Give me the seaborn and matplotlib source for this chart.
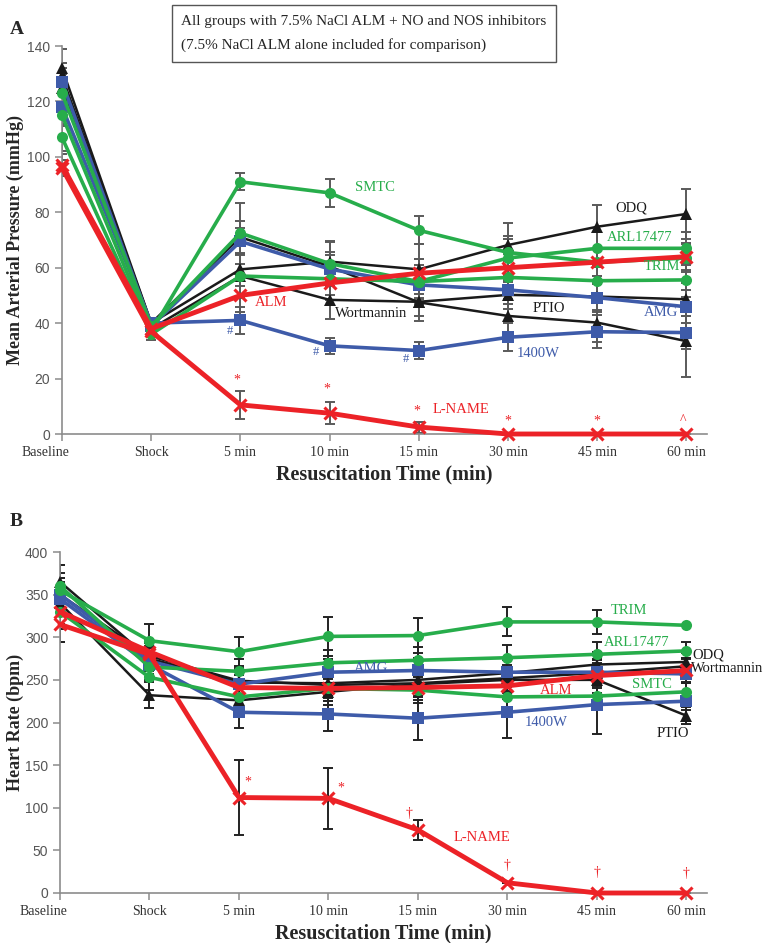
import numpy as np
import pandas as pd
import matplotlib
matplotlib.use("Agg")
import matplotlib.pyplot as plt
import matplotlib.transforms as mtransforms
from matplotlib.patches import Rectangle
import seaborn as sns

times = ["Baseline", "Shock", "5 min", "10 min", "15 min", "30 min", "45 min", "60 min"]
groups = ["ALM", "L-NAME", "SMTC", "ARL17477", "TRIM", "1400W", "AMG", "ODQ", "PTIO", "Wortmannin"]

# mean arterial pressure (mmHg)
alm_map = [97, 38, 50, 54.5, 58, 60, 62, 64]
lname_map = [96, 37, 10.5, 7.5, 2.5, 0, 0, 0]
smtc_map = [115, 37, 91, 87, 73.5, 65.5, 62, 63.5]
arl_map = [123, 39, 72.5, 61.5, 55, 63.5, 67, 67]
trim_map = [107, 36, 57, 56, 55, 56.5, 55.3, 55.6]
w1400_map = [118, 40, 41, 31.8, 30.1, 34.9, 36.9, 36.6]
amg_map = [127, 39, 69.5, 59.5, 53.8, 52, 49.2, 45.9]
odq_map = [132, 40, 59.4, 62.2, 59.4, 68.2, 74.8, 79.4]
ptio_map = [129, 40, 71, 60.5, 47.5, 42.6, 40.2, 33.5]
wort_map = [125, 38, 57, 48.4, 47.7, 50.2, 49.6, 48.6]

alm_map_err = [4, 2, 6, 6, 5, 5, 5, 5]
lname_map_err = [3, 2, 5, 4, 2, 0, 0, 0]
smtc_map_err = [4, 2, 3, 5, 5, 5, 5, 5]
arl_map_err = [5, 2, 11, 8, 8, 8, 6, 6]
trim_map_err = [5, 2, 8, 6, 6, 6, 5, 6]
w1400_map_err = [5, 2, 5, 3, 3, 5, 6, 6]
amg_map_err = [5, 2, 5, 5, 5, 5, 5, 6]
odq_map_err = [7, 2, 6, 7, 9, 8, 8, 9]
ptio_map_err = [5, 2, 6, 5, 5, 6, 7, 13]
wort_map_err = [5, 2, 8, 7, 7, 5, 5, 6]

# heart rate (bpm)
alm_hr = [330, 283, 241, 240, 241, 243, 255, 261]
lname_hr = [315, 280, 112, 111, 74, 12, 0, 0]
smtc_hr = [330, 253, 230, 240, 238, 230, 231, 236]
arl_hr = [360, 265, 260, 270, 273, 276, 280, 284]
trim_hr = [355, 296, 283, 301, 302, 318, 318, 314]
w1400_hr = [345, 268, 212, 210, 205, 212, 221, 225]
amg_hr = [350, 272, 245, 259, 261, 259, 259, 257]
odq_hr = [365, 275, 247, 246, 250, 258, 268, 271]
ptio_hr = [340, 232, 226, 236, 245, 250, 250, 208]
wort_hr = [350, 278, 249, 244, 246, 252, 258, 266]

alm_hr_err = [20, 15, 15, 15, 15, 15, 15, 15]
lname_hr_err = [20, 15, 44, 36, 12, 0, 0, 0]
smtc_hr_err = [15, 15, 15, 15, 15, 15, 15, 10]
arl_hr_err = [15, 15, 15, 15, 15, 15, 15, 10]
trim_hr_err = [15, 20, 17, 23, 20, 17, 14, 0]
w1400_hr_err = [15, 15, 18, 20, 25, 30, 35, 10]
amg_hr_err = [15, 15, 15, 15, 15, 15, 15, 10]
odq_hr_err = [20, 15, 15, 15, 15, 15, 15, 10]
ptio_hr_err = [45, 15, 15, 15, 15, 15, 15, 10]
wort_hr_err = [20, 15, 15, 15, 15, 15, 15, 10]

map_vals = [alm_map, lname_map, smtc_map, arl_map, trim_map, w1400_map, amg_map, odq_map, ptio_map, wort_map]
map_errs = [alm_map_err, lname_map_err, smtc_map_err, arl_map_err, trim_map_err,
            w1400_map_err, amg_map_err, odq_map_err, ptio_map_err, wort_map_err]
hr_vals = [alm_hr, lname_hr, smtc_hr, arl_hr, trim_hr, w1400_hr, amg_hr, odq_hr, ptio_hr, wort_hr]
hr_errs = [alm_hr_err, lname_hr_err, smtc_hr_err, arl_hr_err, trim_hr_err,
           w1400_hr_err, amg_hr_err, odq_hr_err, ptio_hr_err, wort_hr_err]

RED = "#ec2227"
GREEN = "#27ad4b"
BLUE = "#3e5ba9"
BLACK = "#1a1a1a"
styles = {
    "ALM": (RED, "x", 3.5), "L-NAME": (RED, "x", 3.5),
    "SMTC": (GREEN, "o", 2.6), "ARL17477": (GREEN, "o", 2.6), "TRIM": (GREEN, "o", 2.6),
    "1400W": (BLUE, "s", 2.6), "AMG": (BLUE, "s", 2.6),
    "ODQ": (BLACK, "^", 1.8), "PTIO": (BLACK, "^", 1.8), "Wortmannin": (BLACK, "^", 1.8),
}
draw_order = ["ODQ", "PTIO", "Wortmannin", "1400W", "AMG", "TRIM", "ARL17477", "SMTC", "L-NAME", "ALM"]


def long_table(vals, errs):
    rows = []
    for g, v, e in zip(groups, vals, errs):
        for i, t in enumerate(times):
            rows.append({"group": g, "time": t, "pos": i, "value": v[i], "err": e[i]})
    return pd.DataFrame(rows)


df_map = long_table(map_vals, map_errs)
df_hr = long_table(hr_vals, hr_errs)

sns.set_theme(style="ticks")
plt.rcParams["font.family"] = ["Liberation Serif", "DejaVu Serif"]

fig = plt.figure(figsize=(7.7, 9.43), dpi=100)
axA = fig.add_axes([62 / 770, 1 - 434 / 943, 645 / 770, 388 / 943])
axB = fig.add_axes([60 / 770, 1 - 893 / 943, 647 / 770, 341 / 943])


def draw_panel(ax, df, ecolor):
    for k, g in enumerate(draw_order):
        sub = df[df["group"] == g]
        color, marker, lw = styles[g]
        ax.errorbar(sub["pos"], sub["value"], yerr=sub["err"], fmt="none",
                    ecolor=ecolor, elinewidth=1.4, capsize=3.5, capthick=1.4, zorder=2)
        sns.lineplot(data=sub, x="pos", y="value", ax=ax, color=color, linewidth=lw,
                     marker=marker, markersize=8 if marker != "x" else 9,
                     markeredgewidth=2.2 if marker == "x" else 0,
                     markeredgecolor=color, zorder=3 + k, clip_on=False,
                     errorbar=None, legend=False)


def style_axes(ax, yticks, ylabel):
    ax.set_xlim(0, 7.23)
    ax.set_ylim(yticks[0], yticks[-1])
    ax.set_xticks(range(len(times)))
    ax.set_xticklabels(times, fontsize=10, color="#333333")
    ax.set_yticks(yticks)
    ax.set_yticklabels([str(v) for v in yticks], fontsize=10, color="#555555",
                       family=["Liberation Sans Narrow", "Liberation Sans", "DejaVu Sans"])
    for s in ["top", "right"]:
        ax.spines[s].set_visible(False)
    for s in ["left", "bottom"]:
        ax.spines[s].set_color("#8c8c8c")
        ax.spines[s].set_linewidth(1.2)
    ax.tick_params(axis="both", color="#8c8c8c", length=5, width=1.1)
    ax.set_xlabel("Resuscitation Time (min)", fontsize=14.5, fontweight="bold", labelpad=4)
    ax.set_ylabel(ylabel, fontsize=13, fontweight="bold")
    left_px = ax.get_position().x0 * 770
    ax.yaxis.set_label_coords((24 - left_px) / (ax.get_position().width * 770), 0.5)
    # shift "Baseline" label left like the original
    lab = ax.get_xticklabels()[0]
    lab.set_transform(lab.get_transform() + mtransforms.ScaledTranslation(-17 / 100, 0, fig.dpi_scale_trans))


draw_panel(axA, df_map, "#5a5a5a")
style_axes(axA, list(range(0, 141, 20)), "Mean Arterial Pressure (mmHg)")

draw_panel(axB, df_hr, "#222222")
style_axes(axB, list(range(0, 401, 50)), "Heart Rate (bpm)")

# series labels, panel A
labels_a = [
    ("SMTC", 3.51, 88.8, GREEN, "center"), ("ODQ", 6.38, 81.4, BLACK, "center"),
    ("ARL17477", 6.48, 71, GREEN, "center"), ("TRIM", 6.72, 60.4, GREEN, "center"),
    ("PTIO", 5.46, 45.4, BLACK, "center"), ("AMG", 6.71, 43.9, BLUE, "center"),
    ("1400W", 5.34, 29.1, BLUE, "center"), ("ALM", 2.34, 47.4, RED, "center"),
    ("Wortmannin", 3.46, 43.3, BLACK, "center"), ("L-NAME", 4.15, 8.7, RED, "left"),
]
for txt, x, y, c, ha in labels_a:
    axA.text(x, y, txt, color=c, fontsize=10.5, ha=ha, va="center", zorder=20)
for x, y in [(1.88, 37.2), (2.85, 29.5), (3.85, 27)]:
    axA.text(x, y, "#", color=BLUE, fontsize=9, ha="center", va="center")
for x, y, s in [(1.96, 19.5, "*"), (2.97, 16.1, "*"), (3.98, 8.3, "*"),
                (5.0, 4.8, "*"), (6.0, 4.8, "*"), (6.96, 4.8, "^")]:
    axA.text(x, y, s, color=RED, fontsize=10, ha="center", va="center")

# series labels, panel B
labels_b = [
    ("TRIM", 6.36, 331.6, GREEN, "center"), ("ARL17477", 6.44, 294.4, GREEN, "center"),
    ("ODQ", 7.07, 278.7, BLACK, "left"), ("Wortmannin", 7.05, 263, BLACK, "left"),
    ("AMG", 3.48, 263, BLUE, "center"), ("ALM", 5.54, 237.7, RED, "center"),
    ("SMTC", 6.62, 244.7, GREEN, "center"), ("1400W", 5.43, 199.8, BLUE, "center"),
    ("PTIO", 6.85, 186.9, BLACK, "center"), ("L-NAME", 4.71, 64.8, RED, "center"),
]
for txt, x, y, c, ha in labels_b:
    axB.text(x, y, txt, color=c, fontsize=10.5, ha=ha, va="center", zorder=20, clip_on=False)
for x, y, s in [(2.1, 130, "*"), (3.14, 123.5, "*"), (3.9, 93.7, "\u2020"),
                (5.0, 32.3, "\u2020"), (6.0, 24.4, "\u2020"), (7.0, 22.5, "\u2020")]:
    axB.text(x, y, s, color=RED, fontsize=10, ha="center", va="center")

# panel letters and header box
fig.text(10 / 770, 1 - 30 / 943, "A", fontsize=14, fontweight="bold", va="center")
fig.text(10 / 770, 1 - 522 / 943, "B", fontsize=14, fontweight="bold", va="center")
fig.patches.append(Rectangle((172 / 770, 1 - 62 / 943), 384 / 770, 57 / 943,
                             transform=fig.transFigure, fill=False, ec="#555555", lw=1))
fig.text(181 / 770, 1 - 21 / 943, "All groups with 7.5% NaCl ALM + NO and NOS inhibitors",
         fontsize=11, va="center", ha="left")
fig.text(181 / 770, 1 - 45 / 943, "(7.5% NaCl ALM alone included for comparison)",
         fontsize=11, va="center", ha="left")

fig.savefig("out.png", dpi=100)
